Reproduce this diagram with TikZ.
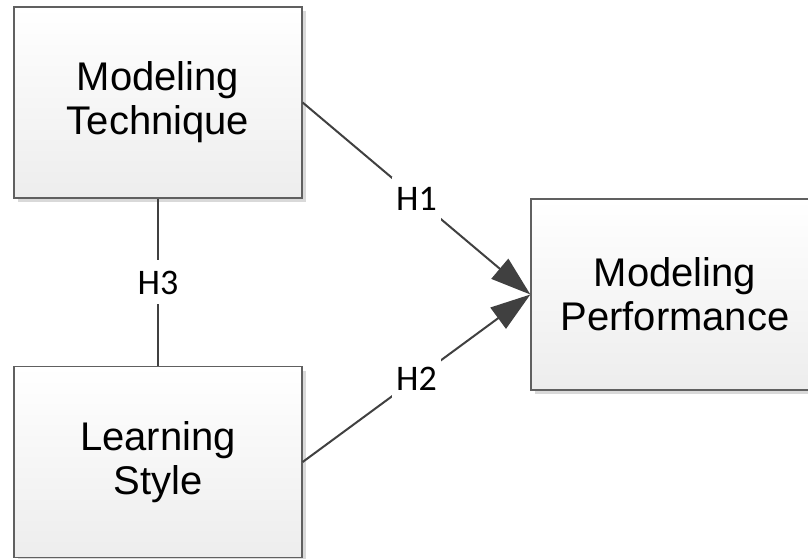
\documentclass[tikz,border=0pt]{standalone}
\usepackage{fontspec}
\setmainfont{Liberation Sans}
\newfontfamily\hypfont{Carlito}
\usetikzlibrary{arrows.meta,positioning,shadows}
\definecolor{mEdge}{HTML}{606060}
\definecolor{mLine}{HTML}{404040}
\definecolor{mShade}{HTML}{EDEDED}
\definecolor{mShadow}{HTML}{D9D9D9}

\begin{document}
\begin{tikzpicture}[x=1pt, y=-1pt,
  construct/.style={draw=mEdge, line width=1.3pt, top color=white, bottom color=mShade,
    minimum width=288pt, minimum height=191pt, inner sep=0pt, align=center,
    font=\fontsize{40}{44}\selectfont,
    drop shadow={shadow xshift=4pt, shadow yshift=-4pt, fill=mShadow, opacity=1}},
  link/.style={draw=mLine, line width=2pt},
  hyp/.style={fill=white, inner xsep=4pt, inner ysep=10pt, text height=24pt, text depth=0pt,
    font=\hypfont\fontsize{36}{36}\selectfont}]
  \useasboundingbox (0,0) rectangle (808,558);
  \node[construct] (tech) at (158,102.5) {Modeling\\Technique};
  \node[construct] (style) at (158,462) {Learning\\Style};
  \node[construct] (perf) at (675,294.5) {Modeling\\Performance};
  % hypotheses
  \draw[link] (tech.south) -- node[hyp] {H3} (style.north);
  \draw[link,-{Triangle[length=40pt,width=26pt]}] (tech.east) -- node[hyp] {H1} (perf.west);
  \draw[link,-{Triangle[length=40pt,width=26pt]}] (style.east) -- node[hyp] {H2} (perf.west);
\end{tikzpicture}
\end{document}
